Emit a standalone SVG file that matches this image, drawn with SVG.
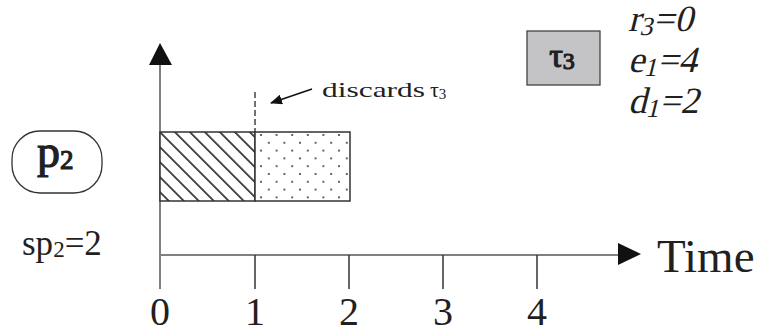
<svg xmlns="http://www.w3.org/2000/svg" width="758" height="333" viewBox="0 0 758 333">
<style>
.serif{font-family:"Liberation Serif","Times New Roman",serif;fill:#231f20}
.bold{stroke:#231f20;stroke-width:1.2}
.axis{stroke:#808080;stroke-width:2;fill:none}
.tick{stroke:#333;stroke-width:1.5}
.ital{font-size:37px}
</style>
<defs>
<pattern id="hatch" patternUnits="userSpaceOnUse" width="10.6" height="10.6" patternTransform="rotate(-45 160 132)">
<rect width="10.6" height="10.6" fill="#fff"/>
<line x1="0" y1="0" x2="0" y2="10.6" stroke="#2a2a2a" stroke-width="3.4"/>
</pattern>
<pattern id="dots" patternUnits="userSpaceOnUse" width="15.6" height="15.6" x="260" y="134">
<rect width="15.6" height="15.6" fill="#fff"/>
<circle cx="1" cy="1" r="1" fill="#333"/>
<circle cx="8.8" cy="8.8" r="1" fill="#333"/>
</pattern>
<marker id="ah" markerWidth="12" markerHeight="10" refX="11" refY="5" orient="auto" markerUnits="userSpaceOnUse">
<path d="M0,0 L12,5 L0,10 Z" fill="#111"/>
</marker>
</defs>

<g id="connectors">
<line class="axis" x1="160" y1="60" x2="160" y2="289"/>
<polygon points="160,43 149,65 172,65" fill="#111"/>
<line class="axis" x1="160" y1="255" x2="622" y2="255"/>
<polygon points="618,243 641,254 618,265" fill="#111"/>
<line class="tick" x1="255" y1="255" x2="255" y2="289"/>
<line class="tick" x1="349" y1="255" x2="349" y2="289"/>
<line class="tick" x1="443" y1="255" x2="443" y2="289"/>
<line class="tick" x1="537" y1="255" x2="537" y2="289"/>
<line x1="255" y1="92" x2="255" y2="132" stroke="#444" stroke-width="1.5" stroke-dasharray="6,3"/>
<line x1="312" y1="89" x2="271" y2="103" stroke="#111" stroke-width="1.5" marker-end="url(#ah)"/>
</g>

<g id="schedule">
<rect x="160" y="132" width="95" height="69" fill="url(#hatch)" stroke="#333" stroke-width="1.5"/>
<rect x="255" y="132" width="95" height="69" fill="url(#dots)" stroke="#333" stroke-width="1.5"/>
</g>

<g id="p2">
<rect x="12" y="131" width="90" height="62" rx="28" ry="28" fill="#fff" stroke="#333" stroke-width="1.3"/>
<text class="serif bold" x="37" y="167" font-size="46">p<tspan font-size="27" dy="2">2</tspan></text>
</g>

<g id="tau3">
<rect x="527" y="31" width="73" height="54" fill="#c4c4c6" stroke="#444" stroke-width="1.3"/>
<text class="serif bold" x="562" y="67" font-size="34" text-anchor="middle">τ<tspan font-size="24" dy="2">3</tspan></text>
</g>

<g id="labels">
<text class="serif" x="322" y="97" font-size="22" textLength="103" lengthAdjust="spacingAndGlyphs">discards</text>
<text class="serif" x="430" y="97" font-size="22">τ<tspan font-size="15" dy="2">3</tspan></text>
<text class="serif ital" transform="translate(628,31) skewX(-14)">r<tspan font-size="26" dy="4">3</tspan><tspan dy="-4">=0</tspan></text>
<text class="serif ital" transform="translate(628,72) skewX(-14)">e<tspan font-size="26" dy="4">1</tspan><tspan dy="-4">=4</tspan></text>
<text class="serif ital" transform="translate(628,113) skewX(-14)">d<tspan font-size="26" dy="4">1</tspan><tspan dy="-4">=2</tspan></text>
<text class="serif" x="22" y="255" font-size="35">sp<tspan font-size="23" dy="2">2</tspan><tspan dy="-2">=2</tspan></text>
<text class="serif" x="657" y="272" font-size="47">Time</text>
<text class="serif" x="160" y="325" font-size="40" text-anchor="middle">0</text>
<text class="serif" x="255" y="325" font-size="40" text-anchor="middle">1</text>
<text class="serif" x="349" y="325" font-size="40" text-anchor="middle">2</text>
<text class="serif" x="443" y="325" font-size="40" text-anchor="middle">3</text>
<text class="serif" x="537" y="325" font-size="40" text-anchor="middle">4</text>
</g>
</svg>
